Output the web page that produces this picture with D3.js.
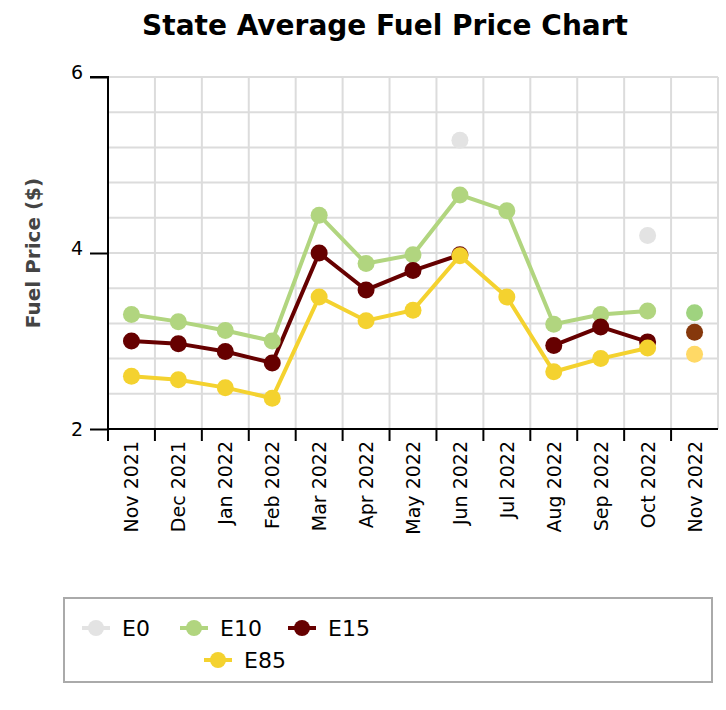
<!DOCTYPE html>
<html><head><meta charset="utf-8">
<script src="https://cdn.jsdelivr.net/npm/d3@7"></script>
<style>body{margin:0;background:#fff}</style>
</head><body><div id="chart"></div>
<script>
const months = ["Nov 2021","Dec 2021","Jan 2022","Feb 2022","Mar 2022","Apr 2022","May 2022","Jun 2022","Jul 2022","Aug 2022","Sep 2022","Oct 2022","Nov 2022"];
const e0  = [null,null,null,null,null,null,null,5.28,null,null,null,4.2,null];
const e10 = [3.3,3.22,3.12,3.0,4.43,3.88,3.98,4.66,4.48,3.19,3.3,3.34,3.32];
const e15 = [3.0,2.97,2.88,2.75,4.0,3.58,3.8,3.98,null,2.95,3.16,2.99,3.1];
const e85 = [2.6,2.56,2.47,2.35,3.5,3.23,3.35,3.97,3.5,2.65,2.8,2.92,2.85];
const yTicks = [2,4,6];

const series = [
  {name:"E0", values:e0, color:"#e3e3e3", last:"#e3e3e3"},
  {name:"E10", values:e10, color:"#b1d57f", last:"#9fd37f"},
  {name:"E15", values:e15, color:"#660000", last:"#86380c"},
  {name:"E85", values:e85, color:"#f4d22f", last:"#ffd966"}
];
const FONT = "Verdana, DejaVu Sans";

const W = 726, H = 710;
const m = {left:108, right:8, top:77, bottom:281};
const svg = d3.select("#chart").append("svg").attr("width",W).attr("height",H);

const x = d3.scaleBand().domain(months).range([m.left, W-m.right]);
const y = d3.scaleLinear().domain([2,6]).range([H-m.bottom, m.top]);

// grid
svg.append("g").selectAll("line").data(d3.range(2,6.01,0.4)).enter().append("line")
  .attr("x1",m.left).attr("x2",W-m.right).attr("y1",d=>y(d)).attr("y2",d=>y(d))
  .attr("stroke","#dcdcdc").attr("stroke-width",2);
svg.append("g").selectAll("line").data(months.slice(1).concat(["end"])).enter().append("line")
  .attr("x1",(d,i)=>i<12?x(d):W-m.right).attr("x2",(d,i)=>i<12?x(d):W-m.right)
  .attr("y1",m.top).attr("y2",H-m.bottom).attr("stroke","#dcdcdc").attr("stroke-width",2);

// axes
const yAxis = svg.append("g").attr("transform",`translate(${m.left},0)`)
  .call(d3.axisLeft(y).tickValues(yTicks).tickSize(18).tickFormat(d3.format("d")));
yAxis.select(".domain").attr("stroke","#000").attr("stroke-width",2).attr("d",`M-18,${y(6)}H0V${y(2)}`);
yAxis.selectAll(".tick line").attr("stroke-width",2);
yAxis.selectAll("text").attr("font-family",FONT).attr("font-size",19).attr("fill","#000").attr("dx",-4).attr("dy",(d)=>d===2?"0.32em":"0.1em");

const xAxis = svg.append("g").attr("transform",`translate(0,${H-m.bottom})`);
xAxis.append("line").attr("x1",m.left).attr("x2",W-m.right).attr("stroke","#000").attr("stroke-width",2);
xAxis.selectAll("line.tk").data(months).enter().append("line").attr("class","tk")
  .attr("x1",d=>x(d)).attr("x2",d=>x(d)).attr("y1",0).attr("y2",12).attr("stroke","#000").attr("stroke-width",2);
xAxis.selectAll("text").data(months).enter().append("text")
  .attr("transform",d=>`translate(${x(d)+x.bandwidth()/2+7},12) rotate(-90)`)
  .attr("text-anchor","end").attr("font-family",FONT).attr("font-size",19).text(d=>d);

// lines
const line = d3.line().defined(d=>d.v!==null).x(d=>x(d.m)+x.bandwidth()/2).y(d=>y(d.v));
series.forEach(s=>{
  const pts = months.slice(0,12).map((mo,i)=>({m:mo,v:s.values[i]}));
  svg.append("path").datum(pts).attr("d",line).attr("fill","none").attr("stroke",s.color).attr("stroke-width",4);
});
series.forEach(s=>{
  svg.append("g").selectAll("circle").data(months.map((mo,i)=>({m:mo,v:s.values[i],i}))
    .filter(d=>d.v!==null)).enter().append("circle")
    .attr("cx",d=>x(d.m)+x.bandwidth()/2).attr("cy",d=>y(d.v)).attr("r",8.5)
    .attr("fill",d=>d.i===12?s.last:s.color);
});

// title & label
svg.append("text").attr("x",385).attr("y",35).attr("text-anchor","middle")
  .attr("font-family",FONT).attr("font-weight","bold").attr("font-size",28).text("State Average Fuel Price Chart");
svg.append("text").attr("transform",`translate(40,${(m.top+H-m.bottom)/2}) rotate(-90)`).attr("text-anchor","middle")
  .attr("font-family",FONT).attr("font-weight","bold").attr("font-size",20).attr("fill","#444").text("Fuel Price ($)");

// legend
svg.append("rect").attr("x",64).attr("y",598).attr("width",648).attr("height",84).attr("fill","#fff").attr("stroke","#aaa").attr("stroke-width",2);
const lpos = [[82,628],[180,628],[288,628],[204,660]];
series.forEach((s,i)=>{
  const g = svg.append("g").attr("transform",`translate(${lpos[i][0]},${lpos[i][1]})`);
  g.append("line").attr("x1",0).attr("x2",28).attr("stroke",s.color).attr("stroke-width",4);
  g.append("circle").attr("cx",14).attr("r",8).attr("fill",s.color);
  g.append("text").attr("x",40).attr("y",8).attr("font-family",FONT).attr("font-size",22).text(s.name);
});
</script></body></html>
